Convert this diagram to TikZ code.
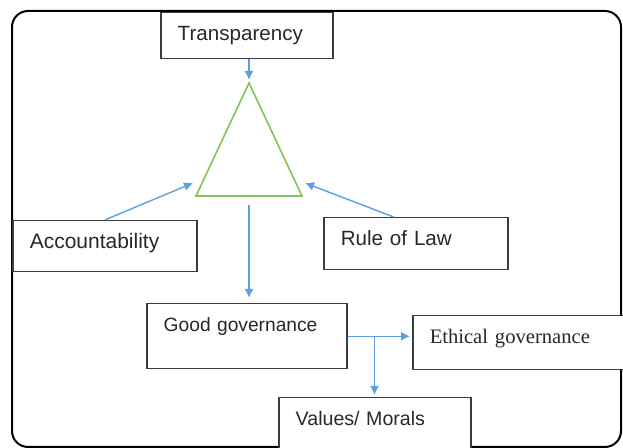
\documentclass[tikz,border=0pt]{standalone}
\usepackage{fontspec}
\setmainfont{Liberation Sans}
\newfontfamily\timesfont{Liberation Serif}
\usetikzlibrary{arrows.meta}
\definecolor{arrowblue}{RGB}{93,160,225}
\definecolor{trigreen}{RGB}{130,195,90}
\definecolor{boxgray}{RGB}{60,60,60}
\definecolor{textgray}{RGB}{40,40,40}

\begin{document}
\begin{tikzpicture}[x=0.5pt,y=-0.5pt,
    box/.style={draw=boxgray,line width=0.75pt,fill=white,anchor=north west,align=left,
      inner xsep=8.5pt,inner ysep=0pt,text height=14pt,text=textgray,
      font=\fontsize{10.3}{12}\selectfont},
    small/.style={font=\fontsize{9.8}{12}\selectfont},
    link/.style={draw=arrowblue,line width=0.7pt,-{Latex[length=4.5pt,width=4.5pt]}}]
    \useasboundingbox (0,0) rectangle (623,448);
    \draw[line width=1pt,rounded corners=8pt] (12,11) rectangle (621,447);
    % boxes
    \node [box,text width=69pt,text depth=9pt] (trans) at (160,12) {Transparency};
    \node [box,text width=75pt,text depth=11.5pt,font=\fontsize{10.5}{12}\selectfont] (acc) at (12,220) {Accountability};
    \node [box,text width=75pt,text depth=12pt] (rol) at (323,217) {Rule of Law};
    \node [box,text width=83pt,text depth=18.5pt,font=\fontsize{9.6}{12}\selectfont] (gg) at (146,303) {Good governance};
    \node [box,text width=90pt,text depth=13pt,font=\fontsize{10.3}{12}\selectfont] (eth) at (412,315) {\timesfont Ethical governance};
    \node [box,small,text width=79pt,text depth=16pt] (val) at (278,397) {Values/ Morals};
    % triangle
    \coordinate (top) at (249,83);
    \coordinate (bl) at (196,196);
    \coordinate (br) at (302,196);
    \coordinate (tl) at (193,183);
    \coordinate (tr) at (305,183);
    \coordinate (tribase) at (249,205);
    \draw[trigreen,line width=0.8pt] (top) -- (bl) -- (br) -- cycle;
    % arrows
    \path[link,shorten >=1.5pt] (trans.south -| top) -- (top);
    \path[link] (acc.north) -- (tl);
    \path[link] ([xshift=-11pt]rol.north) -- (tr);
    \path[link,shorten >=2.5pt] (tribase) -- (gg.north -| tribase);
    \path[link,shorten >=1pt] (gg.east) -- (gg.east -| eth.west);
    \path (gg.east) ++(27,0) coordinate (split);
    \path[link,shorten >=1pt] (split) -- (split |- val.north);
\end{tikzpicture}
\end{document}
